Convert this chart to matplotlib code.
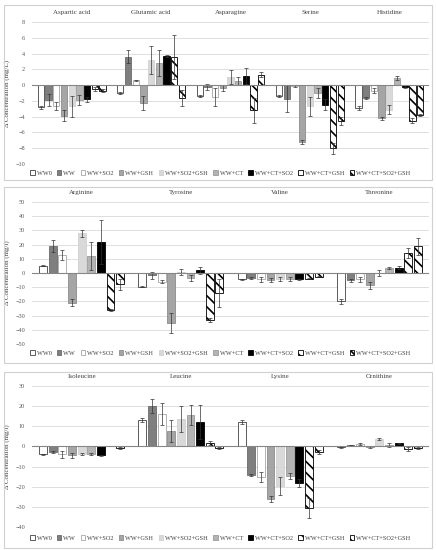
import numpy as np
import matplotlib
matplotlib.use('Agg')
import matplotlib.pyplot as plt
from matplotlib.patches import Rectangle
from matplotlib.transforms import blended_transform_factory

plt.rcParams['font.family'] = ['Liberation Serif', 'DejaVu Serif']
plt.rcParams['hatch.linewidth'] = 1.2

treatments = ['WW0', 'WW', 'WW+SO2', 'WW+GSH', 'WW+SO2+GSH', 'WW+CT',
              'WW+CT+SO2', 'WW+CT+GSH', 'WW+CT+SO2+GSH']

# panel 1
amino1 = ['Aspartic acid', 'Glutamic acid', 'Asparagine', 'Serine', 'Histidine']
vals1 = [[-2.8, -1.9, -2.6, -3.9, -2.7, -1.9, -1.8, -0.5, -0.7],
         [-1.0, 3.6, 0.6, -2.3, 3.2, 2.8, 3.7, 3.6, -1.6],
         [-1.4, -0.2, -1.5, -0.4, 1.0, 0.5, 1.2, -3.2, 1.3],
         [-1.4, -1.7, -0.1, -7.2, -2.7, -1.0, -2.5, -8.0, -4.6],
         [-2.9, -1.6, -0.7, -4.2, -3.1, 0.9, -0.2, -4.5, -3.8]]
errs1 = [[0.2, 0.8, 0.5, 0.7, 1.3, 0.6, 0.3, 0.3, 0.2],
         [0.1, 0.8, 0.1, 0.9, 1.8, 1.6, 0.1, 2.8, 1.0],
         [0.1, 0.4, 1.1, 0.4, 0.9, 0.5, 1.0, 1.6, 0.3],
         [0.1, 1.7, 0.1, 0.3, 1.2, 0.6, 0.7, 0.7, 0.5],
         [0.2, 0.1, 0.3, 0.2, 0.6, 0.2, 0.2, 0.3, 0.1]]

# panel 2
amino2 = ['Arginine', 'Tyrosine', 'Valine', 'Threonine']
vals2 = [[5.2, 19.0, 13.0, -21.0, 28.0, 12.0, 21.5, -26.0, -8.0],
         [-9.5, -1.5, -6.0, -35.0, 0.5, -3.5, 2.0, -33.0, -14.0],
         [-4.5, -3.5, -4.5, -5.0, -4.0, -4.0, -4.5, -4.0, -2.5],
         [-20.0, -5.0, -4.5, -8.5, 0.0, 3.5, 3.8, 14.0, 19.0]]
errs2 = [[0.5, 4.5, 3.5, 2.5, 2.5, 10.0, 15.5, 0.5, 4.0],
         [0.5, 2.5, 1.0, 7.0, 2.0, 2.0, 2.5, 1.5, 10.0],
         [0.5, 0.5, 1.5, 1.2, 1.5, 1.5, 0.5, 0.5, 0.5],
         [1.5, 1.0, 1.5, 2.5, 2.0, 0.5, 1.0, 3.5, 6.0]]

# panel 3
amino3 = ['Isoleucine', 'Leucine', 'Lysine', 'Ornithine']
vals3 = [[-4.0, -3.0, -4.0, -4.5, -4.0, -4.0, -4.5, 0.2, -1.0],
         [13.0, 20.0, 16.0, 7.5, 13.5, 15.5, 12.0, 1.5, -1.0],
         [12.0, -14.0, -15.0, -26.0, -19.5, -14.5, -18.0, -30.5, -3.0],
         [-0.5, 0.5, 1.0, -0.3, 3.5, 0.5, 1.5, -1.5, -0.8]]
errs3 = [[0.3, 0.5, 1.5, 1.0, 0.5, 0.5, 0.3, 0.2, 0.5],
         [1.0, 3.5, 5.5, 5.5, 6.5, 5.0, 8.5, 1.0, 0.5],
         [1.0, 0.5, 2.5, 1.5, 4.5, 1.5, 2.0, 5.0, 1.0],
         [0.2, 0.2, 0.5, 0.5, 0.5, 1.0, 0.3, 1.0, 0.5]]

fills = ['white', '#7f7f7f', 'white', '#a5a5a5', '#d9d9d9', '#b4b4b4',
         'black', 'white', 'white']
edges = ['#404040', '#6b6b6b', '#a6a6a6', '#8c8c8c', '#d0d0d0', '#9a9a9a',
         'black', 'black', 'black']
hatches = [None, None, None, None, None, None, None, '\\\\\\', '\\\\\\']

panels = [
    (amino1, vals1, errs1, np.arange(-10, 9, 2), 'Δ Concentration (mg/L)',
     (0.0734, 0.7018, 0.9106, 0.2582), (0.0091, 0.6727, 0.9817, 0.3182), 0.6855),
    (amino2, vals2, errs2, np.arange(-50, 51, 10), 'Δ Concentration (mg/l)',
     (0.0734, 0.3745, 0.9106, 0.2582), (0.0091, 0.3400, 0.9817, 0.3200), 0.358),
    (amino3, vals3, errs3, np.arange(-40, 31, 10), 'Δ Concentration (mg/l)',
     (0.0734, 0.0418, 0.9106, 0.2564), (0.0091, 0.0036, 0.9817, 0.3200), 0.0218),
]

fig = plt.figure(figsize=(4.36, 5.50), dpi=100)

nb = len(treatments)
step = 0.097
bw = 0.08

for amino, vals, errs, yt, ylab, rect, box, legy in panels:
    fig.patches.append(Rectangle(box[:2], box[2], box[3], transform=fig.transFigure,
                                 fill=False, edgecolor='#d0d0d0', lw=0.8))
    ax = fig.add_axes(rect)
    v = np.array(vals)
    e = np.array(errs)
    x = np.arange(len(amino))
    for j in range(nb):
        xs = x + (j - (nb - 1) / 2) * step
        ax.bar(xs, v[:, j], width=bw, color=fills[j], edgecolor=edges[j],
               hatch=hatches[j], linewidth=0.6, label=treatments[j], zorder=3)
        ax.errorbar(xs, v[:, j], yerr=e[:, j], fmt='none', ecolor='#333333',
                    elinewidth=0.5, capsize=1.2, capthick=0.5, zorder=4)
    ax.set_xlim(-0.5, len(amino) - 0.5)
    ax.set_ylim(yt[0], yt[-1])
    ax.set_yticks(yt)
    ax.tick_params(axis='y', labelsize=4.5, labelcolor='#595959', length=0, pad=5)
    ax.set_xticks([])
    ax.yaxis.grid(True, color='#d9d9d9', lw=0.6, zorder=0)
    ax.set_axisbelow(True)
    for s in ax.spines.values():
        s.set_visible(False)
    ax.axhline(0, color='#868686', lw=0.8, zorder=5)
    ax.set_ylabel(ylab, fontsize=5, color='#404040', labelpad=4)
    tr = blended_transform_factory(ax.transData, ax.transAxes)
    for i, name in enumerate(amino):
        ax.annotate(name, (i, 1.0), xycoords=tr, xytext=(0, 5),
                    textcoords='offset points', ha='center', va='bottom',
                    fontsize=5, color='#404040')
    fig.legend(*ax.get_legend_handles_labels(), loc='center',
               bbox_to_anchor=(0.505, legy), ncol=nb, frameon=False,
               fontsize=4.5, handlelength=0.7, handleheight=0.7,
               handletextpad=0.3, columnspacing=0.9, labelcolor='#404040')

fig.savefig('out.png', dpi=100)
